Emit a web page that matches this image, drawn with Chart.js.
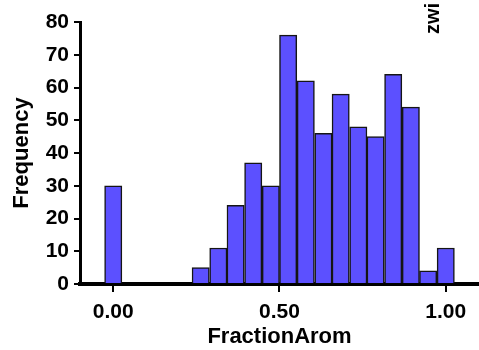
<!DOCTYPE html>
<html>
<head>
<meta charset="utf-8">
<script src="https://cdn.jsdelivr.net/npm/chart.js@4"></script>
<style>
  html, body { margin: 0; padding: 0; background: #fff; }
  #wrap { width: 479px; height: 350px; }
</style>
</head>
<body>
<div id="wrap"><canvas id="histChart" width="479" height="350"></canvas></div>
<script>
// Histogram bins (centre of each bin on the FractionArom axis)
var binCenters = [0.000, 0.263, 0.316, 0.368, 0.421, 0.474, 0.526, 0.579, 0.632, 0.684, 0.737, 0.789, 0.842, 0.895, 0.947, 1.000];
var frequency  = [30,    5,     11,    24,    37,    30,    76,    62,    46,    58,    48,    45,    64,    54,    4,     11];
var xTicks = [0, 0.5, 1];
var yTicks = [0, 10, 20, 30, 40, 50, 60, 70, 80];
var sideLabel = 'zwi';

var font = 'Liberation Sans, Arial, sans-serif';

// partial label cut off at the top right of the figure
var sideText = {
  id: 'sideText',
  afterDraw: function (chart) {
    var ctx = chart.ctx;
    ctx.save();
    ctx.translate(433, 34);
    ctx.rotate(-Math.PI / 2);
    ctx.font = 'bold 20px ' + font;
    ctx.fillStyle = '#000';
    ctx.textAlign = 'left';
    ctx.textBaseline = 'middle';
    ctx.fillText(sideLabel, 0, 0);
    ctx.restore();
  }
};

new Chart(document.getElementById('histChart'), {
  type: 'bar',
  data: {
    datasets: [{
      data: binCenters.map(function (x, i) { return { x: x, y: frequency[i] }; }),
      backgroundColor: '#5c50ff',
      borderColor: '#151515',
      borderWidth: 1.5,
      barPercentage: 1,
      categoryPercentage: 1
    }]
  },
  plugins: [sideText],
  options: {
    responsive: false,
    animation: false,
    layout: { padding: { top: 22, right: 0, left: 0, bottom: 0 } },
    plugins: { legend: { display: false }, tooltip: { enabled: false } },
    scales: {
      x: {
        type: 'linear',
        offset: false,
        min: -0.1,
        max: 1.1,
        afterBuildTicks: function (scale) {
          scale.ticks = xTicks.map(function (v) { return { value: v }; });
        },
        afterFit: function (scale) { scale.height = 66; },
        border: { color: '#000', width: 4 },
        grid: { offset: false, drawOnChartArea: false, drawTicks: true, tickLength: 8, color: '#000', lineWidth: 2 },
        ticks: {
          color: '#000',
          padding: 8,
          maxRotation: 0,
          font: { family: font, size: 21, weight: 'bold' },
          callback: function (v) { return Number(v).toFixed(2); }
        },
        title: {
          display: true,
          text: 'FractionArom',
          color: '#000',
          padding: { top: 0, bottom: 0 },
          font: { family: font, size: 22, weight: 'bold' }
        }
      },
      y: {
        min: 0,
        max: 80,
        afterBuildTicks: function (scale) {
          scale.ticks = yTicks.map(function (v) { return { value: v }; });
        },
        afterFit: function (scale) { scale.width = 80; },
        border: { color: '#000', width: 3 },
        grid: { drawOnChartArea: false, drawTicks: true, tickLength: 6, color: '#000', lineWidth: 2 },
        ticks: {
          color: '#000',
          padding: 5,
          font: { family: font, size: 21, weight: 'bold' }
        },
        title: {
          display: true,
          text: 'Frequency',
          color: '#000',
          padding: { top: 9, bottom: 0 },
          font: { family: font, size: 22, weight: 'bold' }
        }
      }
    }
  }
});
</script>
</body>
</html>
